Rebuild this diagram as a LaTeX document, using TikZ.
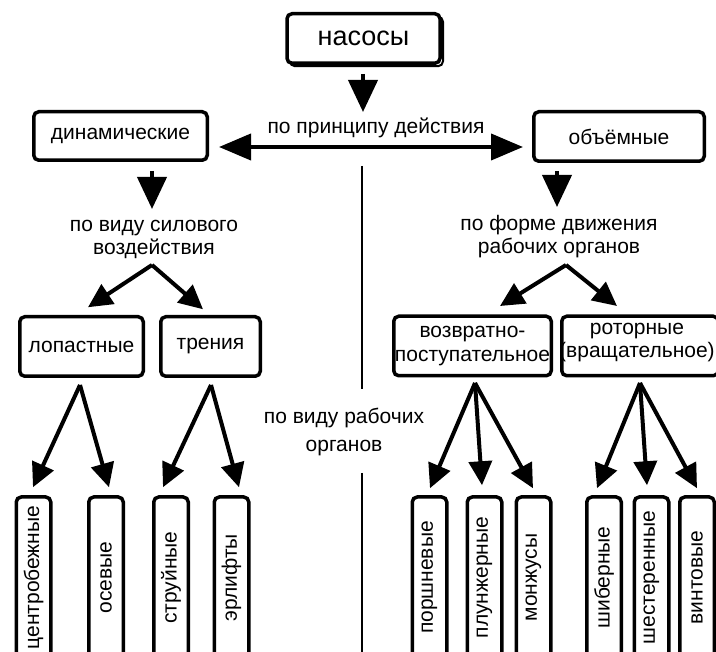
\documentclass[tikz,border=0pt]{standalone}
\usepackage{fontspec}
\setmainfont{Liberation Sans}
\usetikzlibrary{arrows.meta}
\begin{document}
\begin{tikzpicture}[x=1pt,y=-1pt,
  txt/.style={font=\fontsize{21}{23.5}\selectfont},
  box/.style={draw, line width=3.5pt, rounded corners=5pt, fill=white, inner sep=0pt, align=center, txt},
  vbox/.style={box, rotate=90, minimum width=161pt, minimum height=34.5pt},
  lbl/.style={align=center, inner sep=0pt, txt},
  bigarr/.style={line width=4pt, -{Triangle[length=32pt,width=29pt]}},
  harr/.style={line width=4pt, {Triangle[length=32pt,width=26pt]}-{Triangle[length=32pt,width=26pt]}},
  arr/.style={line width=4pt, -{Triangle[length=24pt,width=23pt]}},
  sep/.style={line width=2.5pt}
]
\useasboundingbox (0,0) rectangle (716,652);
\clip (0,0) rectangle (716,652);
\fill[white] (0,0) rectangle (716,652);

% top box with shadow
\node[draw, line width=2pt, rounded corners=5pt, minimum width=153pt, minimum height=49.5pt] (nasShadow) at (366.5,41.5) {};
\node[box, minimum width=153pt, minimum height=49.5pt, font=\fontsize{27}{30}\selectfont] (nasosy) at (363.5,38.5) {насосы};

% second level
\node[box, minimum width=173.5pt, minimum height=48.5pt] (dyn) at (120.5,136) {динамические};
\node[box, minimum width=170.5pt, minimum height=49.5pt] (vol) at (619,136.5) {объёмные};
\node[lbl] (principle) at (376,128) {по принципу действия};

% third level labels
\node[lbl] (force) at (154,239.5) {по виду силового\\воздействия};
\node[lbl] (motion) at (559,236.5) {по форме движения\\рабочих органов};

% middle boxes
\node[box, minimum width=123.5pt, minimum height=59.5pt] (lop) at (81.5,346.5) {лопастные};
\node[box, minimum width=99.5pt, minimum height=59.5pt] (tren) at (210.5,346.5) {трения};
\node[box, minimum width=157.5pt, minimum height=59.5pt] (vozv) at (472.5,346) {возвратно-\\поступательное};
\node[box, minimum width=156.5pt, minimum height=59.5pt] (rot) at (640,346) {};
\node[lbl] (rotText) at (637,342.5) {роторные\\(вращательное)};

% separator label
\node[lbl, font=\fontsize{21}{28}\selectfont] (organs) at (344,432) {по виду рабочих\\органов};

% bottom boxes
\node[vbox] (cb) at (33.5,577.5) {центробежные};
\node[vbox] (os) at (106,577.5) {осевые};
\node[vbox] (st) at (171,577.5) {струйные};
\node[vbox] (er) at (231.5,577.5) {эрлифты};
\node[vbox] (po) at (429.5,577.5) {поршневые};
\node[vbox] (pl) at (484.5,577.5) {плунжерные};
\node[vbox] (mo) at (533.5,577.5) {монжусы};
\node[vbox] (sh) at (604,577.5) {шиберные};
\node[vbox] (ss) at (651.5,577.5) {шестеренные};
\node[vbox] (vi) at (697,577.5) {винтовые};

% coordinates
\coordinate (nasS) at (363,74);
\coordinate (nasT) at (363,112);
\coordinate (hl) at (219,147);
\coordinate (hr) at (523,147);
\coordinate (dynS) at (152,171);
\coordinate (dynT) at (152,209);
\coordinate (volS) at (557,171);
\coordinate (volT) at (557,207);
\coordinate (apF) at (152,265);
\coordinate (apM) at (566,265);
\coordinate (apLop) at (80,385);
\coordinate (apTren) at (211,385);
\coordinate (apVozv) at (475,383);
\coordinate (apRot) at (640,383);
\coordinate (sepA) at (362,166);
\coordinate (sepB) at (362,389);
\coordinate (sepC) at (362,473);
\coordinate (sepD) at (362,660);

% arrows
\draw[bigarr] (nasS) -- (nasT);
\draw[harr] (hl) -- (hr);
\draw[bigarr] (dynS) -- (dynT);
\draw[bigarr] (volS) -- (volT);

\draw[arr] (apF) -- ([xshift=6.5pt,yshift=7.75pt]lop.north);
\draw[arr] (apF) -- ([xshift=-7.5pt,yshift=5.75pt]tren.north);
\draw[arr] (apM) -- ([xshift=27.5pt,yshift=8.5pt]vozv.north);
\draw[arr] (apM) -- ([xshift=-23pt,yshift=8.5pt]rot.north);

\draw[arr] (apLop) -- ([xshift=-0.5pt,yshift=8pt]cb.east);
\draw[arr] (apLop) -- ([xshift=3pt,yshift=8pt]os.east);
\draw[arr] (apTren) -- ([xshift=-8pt,yshift=8pt]st.east);
\draw[arr] (apTren) -- ([xshift=7.5pt,yshift=8pt]er.east);
\draw[arr] (apVozv) -- ([xshift=0.5pt,yshift=7pt]po.east);
\draw[arr] (apVozv) -- ([xshift=-2.5pt,yshift=10pt]pl.east);
\draw[arr] (apVozv) -- ([xshift=-0.5pt,yshift=7pt]mo.east);
\draw[arr] (apRot) -- ([xshift=-7pt,yshift=7pt]sh.east);
\draw[arr] (apRot) -- ([xshift=-4.5pt,yshift=10pt]ss.east);
\draw[arr] (apRot) -- ([xshift=0pt,yshift=7pt]vi.east);

% separator
\draw[sep] (sepA) -- (sepB);
\draw[sep] (sepC) -- (sepD);
\end{tikzpicture}
\end{document}
